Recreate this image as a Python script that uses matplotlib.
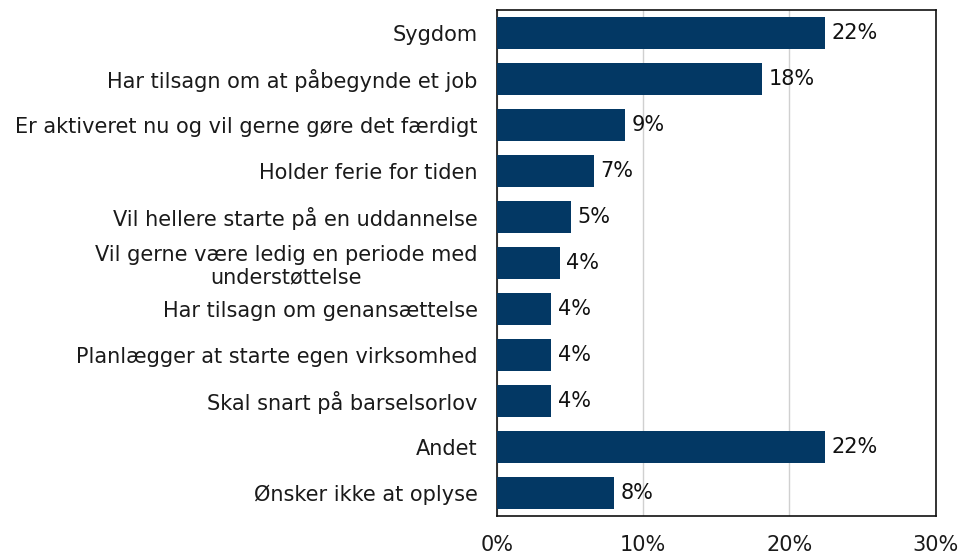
import matplotlib
matplotlib.use("Agg")
import matplotlib.pyplot as plt

categories = [
    "Sygdom",
    "Har tilsagn om at påbegynde et job",
    "Er aktiveret nu og vil gerne gøre det færdigt",
    "Holder ferie for tiden",
    "Vil hellere starte på en uddannelse",
    "Vil gerne være ledig en periode med\nunderstøttelse",
    "Har tilsagn om genansættelse",
    "Planlægger at starte egen virksomhed",
    "Skal snart på barselsorlov",
    "Andet",
    "Ønsker ikke at oplyse",
]
values = [22.4, 18.1, 8.75, 6.6, 5.05, 4.3, 3.7, 3.7, 3.7, 22.4, 8.0]
labels = ["22%", "18%", "9%", "7%", "5%", "4%", "4%", "4%", "4%", "22%", "8%"]
xticks = [0, 10, 20, 30]
xticklabels = ["0%", "10%", "20%", "30%"]

plt.rcParams['font.family'] = ['DejaVu Sans']
fig = plt.figure(figsize=(9.6, 5.55), dpi=100)
ax = fig.add_axes([0.5177, 0.0708, 0.4570, 0.9112])

ypos = list(range(len(categories)))
ax.barh(ypos, values, height=0.69, color="#033864", zorder=3)
for y, v, l in zip(ypos, values, labels):
    ax.text(v + 0.45, y, l, va="center", ha="left", fontsize=15, color="#111111")

ax.set_ylim(len(categories) - 0.5, -0.5)
ax.set_xlim(0, 30)
ax.set_yticks(ypos)
ax.set_yticklabels(categories, fontsize=15, color="#1a1a1a", multialignment="center",
                   linespacing=1.15)
ax.set_xticks(xticks)
ax.set_xticklabels(xticklabels, fontsize=15, color="#1a1a1a")
ax.tick_params(axis="y", length=0, pad=14)
ax.tick_params(axis="x", length=0, pad=14)
ax.xaxis.grid(True, color="#d0d0d0", linewidth=1, zorder=0)
for s in ax.spines.values():
    s.set_color("#111111")
    s.set_linewidth(1.2)

fig.savefig("out.png", dpi=100)
